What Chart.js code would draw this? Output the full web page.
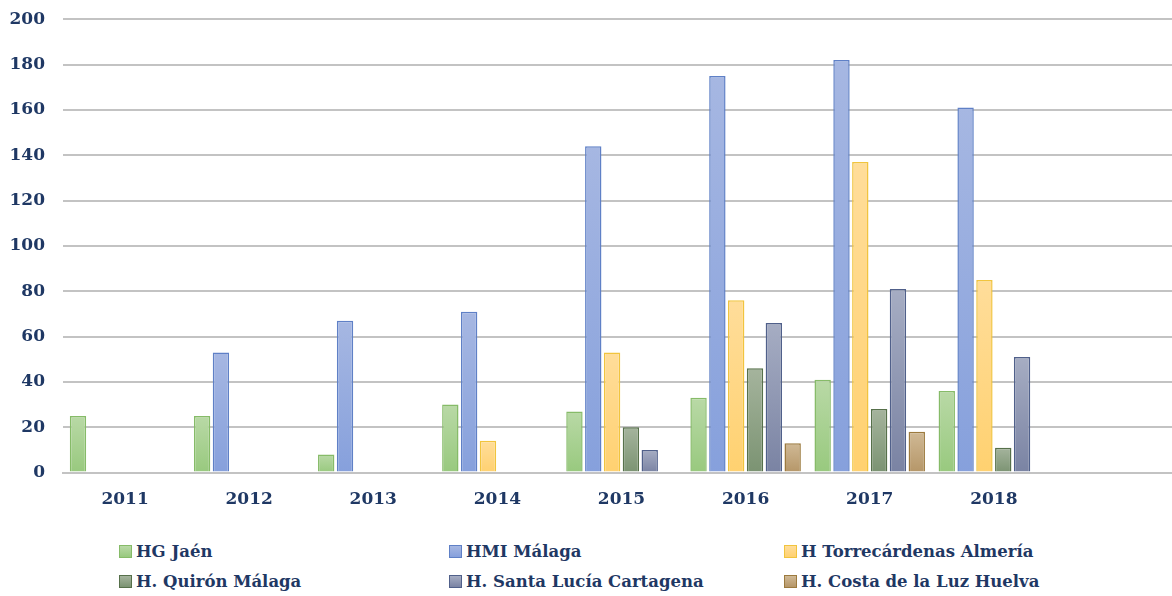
<!DOCTYPE html>
<html>
<head>
<meta charset="utf-8">
<script src="https://cdn.jsdelivr.net/npm/chart.js@4"></script>
<style>
  html, body { margin: 0; padding: 0; background: #fff; overflow: hidden; }
  #wrap { position: relative; width: 1180px; height: 536px; margin-top: -9px; }
  #legend {
    position: absolute; left: 0; top: 542px; width: 1172px;
    font-family: "DejaVu Serif", serif; font-weight: bold; font-size: 16.5px; color: #1f3864;
  }
  .item { position: absolute; white-space: nowrap; line-height: 20px; }
  .box { display: inline-block; width: 11px; height: 11px; margin-right: 4px; vertical-align: -1px; border: 1px solid; }
</style>
</head>
<body>
<div id="wrap"><canvas id="myBarChart"></canvas></div>
<div id="legend"></div>
<script>
var years = ['2011', '2012', '2013', '2014', '2015', '2016', '2017', '2018', ''];
var hgJaen       = [25, 25, 8, 30, 27, 33, 41, 36, null];
var hmiMalaga    = [null, 53, 67, 71, 144, 175, 182, 161, null];
var torrecardenas = [null, null, null, 14, 53, 76, 137, 85, null];
var quironMalaga = [null, null, null, null, 20, 46, 28, 11, null];
var santaLucia   = [null, null, null, null, 10, 66, 81, 51, null];
var costaLuz     = [null, null, null, null, null, 13, 18, null, null];
var yTicks = [0, 20, 40, 60, 80, 100, 120, 140, 160, 180, 200];

var series = [
  { label: 'HG Jaén', data: hgJaen, top: '#b9d9a6', bottom: '#98c97e', border: '#86bb68' },
  { label: 'HMI Málaga', data: hmiMalaga, top: '#a6b7e2', bottom: '#86a0dc', border: '#5f80c6' },
  { label: 'H Torrecárdenas Almería', data: torrecardenas, top: '#ffdd9a', bottom: '#ffd170', border: '#f1c43e' },
  { label: 'H. Quirón Málaga', data: quironMalaga, top: '#a5b49d', bottom: '#7b9372', border: '#56704a' },
  { label: 'H. Santa Lucía Cartagena', data: santaLucia, top: '#a6adc3', bottom: '#7a83a3', border: '#50608a' },
  { label: 'H. Costa de la Luz Huelva', data: costaLuz, top: '#d0b995', bottom: '#b59668', border: '#9c7a3e' }
];

function gradientFor(s) {
  return function(context) {
    var chart = context.chart;
    if (!chart.chartArea || context.raw == null) return s.bottom;
    var y = chart.scales.y;
    var g = chart.ctx.createLinearGradient(0, y.getPixelForValue(context.raw), 0, y.getPixelForValue(0));
    g.addColorStop(0, s.top);
    g.addColorStop(1, s.bottom);
    return g;
  };
}

var tickFont = { family: 'DejaVu Serif', weight: 'bold', size: 17 };

var ctx = document.getElementById('myBarChart');
var myBarChart = new Chart(ctx, {
  type: 'bar',
  data: {
    labels: years,
    datasets: series.map(function(s) {
      return {
        label: s.label,
        data: s.data,
        backgroundColor: gradientFor(s),
        borderColor: s.border,
        borderWidth: 1.5,
        categoryPercentage: 0.91,
        barPercentage: 0.87
      };
    })
  },
  options: {
    responsive: true,
    maintainAspectRatio: false,
    animation: false,
    layout: { padding: { top: 1, right: 0, bottom: 0, left: 0 } },
    plugins: { legend: { display: false }, tooltip: { enabled: false } },
    scales: {
      x: {
        grid: { display: false, drawTicks: false },
        border: { display: true, color: '#c3c3c3', width: 2 },
        ticks: { padding: 17, color: '#1f3864', font: tickFont }
      },
      y: {
        min: 0, max: 200,
        afterBuildTicks: function(axis) { axis.ticks = yTicks.map(function(v) { return { value: v }; }); },
        afterFit: function(axis) { axis.width = 63; },
        grid: { color: '#c3c3c3', lineWidth: 2, drawTicks: false },
        border: { display: false },
        ticks: { padding: 18, color: '#1f3864', font: tickFont }
      }
    }
  }
});

// legend in three columns, two rows
var legend = document.getElementById('legend');
var colX = [119, 449, 784];
series.forEach(function(s, i) {
  var d = document.createElement('div');
  d.className = 'item';
  d.style.left = colX[i % 3] + 'px';
  d.style.top = (i < 3 ? 0 : 30) + 'px';
  d.innerHTML = '<span class="box" style="background:linear-gradient(' + s.top + ',' + s.bottom + ');border-color:' + s.border + '"></span>' + s.label;
  legend.appendChild(d);
});
</script>
</body>
</html>
